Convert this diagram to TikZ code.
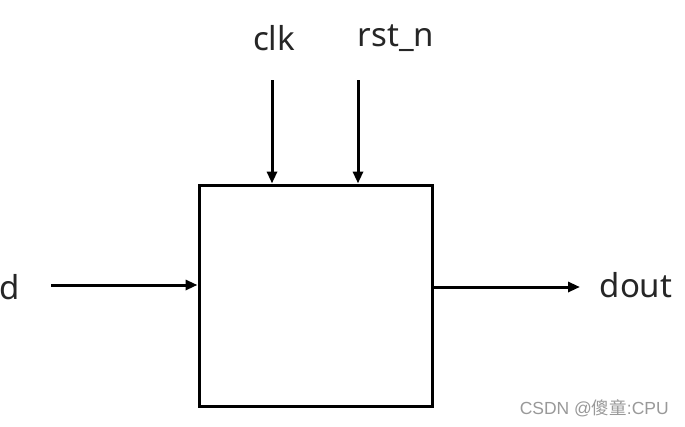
\documentclass[tikz,border=0pt]{standalone}
\usepackage{fontspec}
\setmainfont{Noto Sans}
\newfontfamily\cjk{Noto Sans CJK SC}
\newfontfamily\wmfont{Liberation Sans}
\usetikzlibrary{arrows.meta}
\begin{document}
\begin{tikzpicture}[x=1pt,y=-1pt,
  wire/.style={line width=3pt,-{Triangle[length=12pt,width=10pt]}},
  lbl/.style={font=\fontsize{33}{33}\selectfont,text=black!85,inner sep=0pt}]
\useasboundingbox (0,0) rectangle (685,426);
\fill[white] (0,0) rectangle (685,426);
\node[draw,line width=3pt,minimum width=233pt,minimum height=221pt,inner sep=0pt] (box) at (315.5,295.5) {};
\node[lbl] (clk) at (274,38) {clk};
\node[lbl] (rst) at (396,38) {rst\_n};
\node[lbl] (d) at (10,287) {d};
\node[lbl] (dout) at (636,285) {dout};
\coordinate (clktop) at (272,80);
\coordinate (rsttop) at (358,80);
\coordinate (din) at (51,285);
\coordinate (dend) at (580,287);
\draw[wire] (clktop) -- (clktop |- box.north);
\draw[wire] (rsttop) -- (rsttop |- box.north);
\draw[wire] (din) -- (din -| box.west);
\draw[wire] (dend -| box.east) -- (dend);
\node[font=\wmfont\fontsize{17.5}{17.5}\selectfont,text=black!40,anchor=east,inner sep=0pt] (wm) at (669,408) {CSDN @{\cjk 傻童}:CPU};
\end{tikzpicture}
\end{document}
